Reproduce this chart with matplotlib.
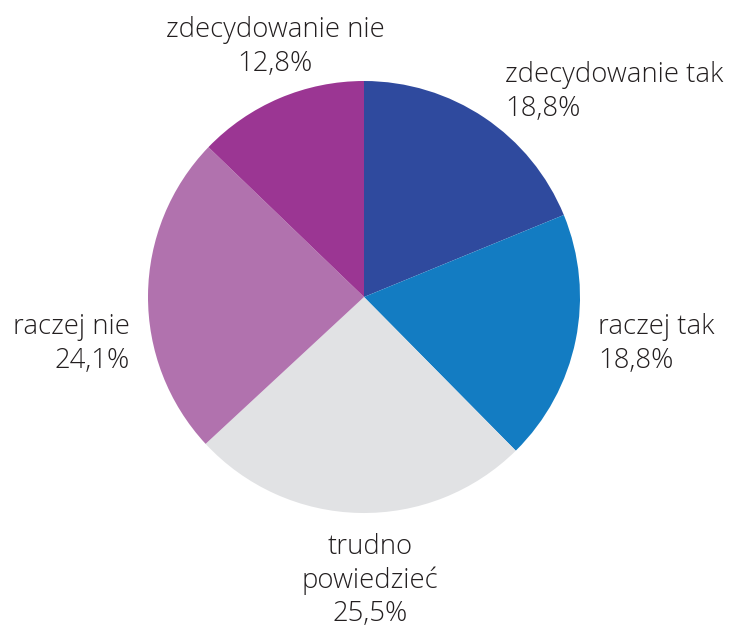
import matplotlib
matplotlib.use("Agg")
import matplotlib.pyplot as plt

labels = ["zdecydowanie tak", "raczej tak", "trudno\npowiedzieć", "raczej nie", "zdecydowanie nie"]
values = [18.8, 18.8, 25.5, 24.1, 12.8]
colors = ["#2F4A9E", "#137CC2", "#E1E2E4", "#B172AE", "#9B3693"]

W, H = 732, 628
cx, cy, r = 364, 297, 216

plt.rcParams['font.family'] = ['Open Sans', 'DejaVu Sans']
fig = plt.figure(figsize=(W / 100, H / 100), dpi=100)
ax = fig.add_axes([(cx - r) / W, (H - cy - r) / H, 2 * r / W, 2 * r / H])
ax.pie(values, colors=colors, startangle=90, counterclock=False, radius=1,
       wedgeprops=dict(linewidth=0))
ax.set_xlim(-1, 1)
ax.set_ylim(-1, 1)
ax.set_aspect('equal')
ax.axis('off')

# label anchor points in pixels (x, top y) and alignment
label_pos = [(505, 61, 'left'), (598, 313, 'left'), (370, 533, 'center'),
             (130, 313, 'right'), (275, 16, 'center')]

for lab, val, (x, y, ha) in zip(labels, values, label_pos):
    txt = f"{lab}\n{val:.1f}%".replace('.', ',')
    fig.text(x / W, 1 - y / H, txt, ha=ha, va='top', fontsize=19.8,
             fontweight='light', color='#231F20',
             linespacing=1.24 if '\n' in lab else 1.28,
             multialignment=ha)

fig.savefig("out.png", dpi=100)
